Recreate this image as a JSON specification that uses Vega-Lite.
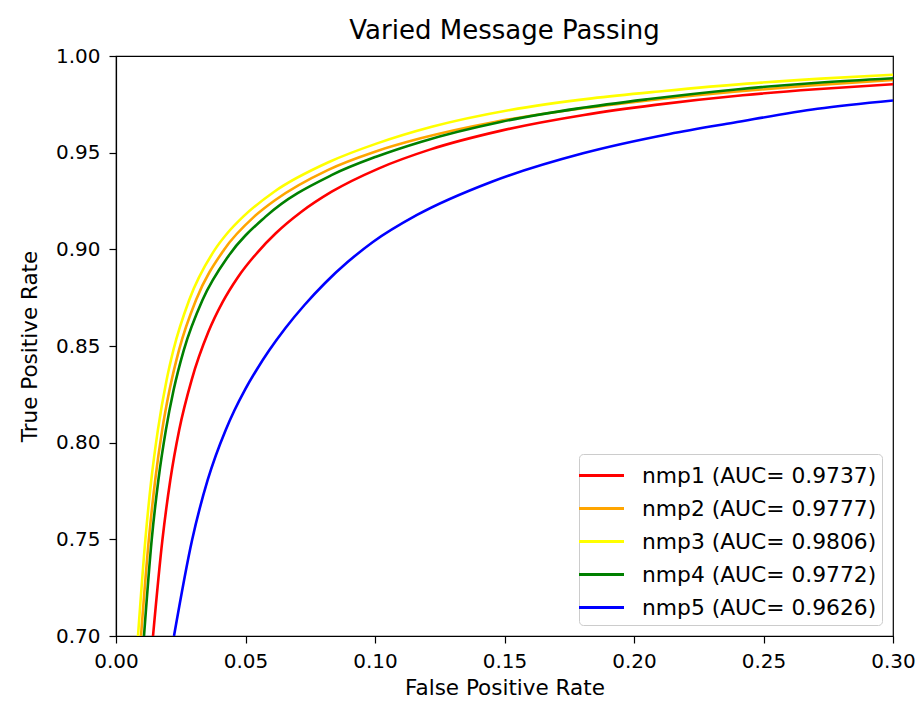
{
  "$schema": "https://vega.github.io/schema/vega-lite/v6.json",
  "width": 777,
  "height": 580,
  "autosize": {"type": "none"},
  "padding": {"left": 116, "top": 56, "right": 25, "bottom": 76},
  "background": "white",
  "title": {"text": "Varied Message Passing", "fontSize": 26, "font": "DejaVu Sans", "fontWeight": "normal", "color": "black", "offset": 2, "anchor": "middle"},
  "data": {"values": [
    {"model": "nmp1 (AUC= 0.9737)", "fpr": 0.01429, "tpr": 0.7},
    {"model": "nmp1 (AUC= 0.9737)", "fpr": 0.01792, "tpr": 0.7497},
    {"model": "nmp1 (AUC= 0.9737)", "fpr": 0.02097, "tpr": 0.7807},
    {"model": "nmp1 (AUC= 0.9737)", "fpr": 0.0244, "tpr": 0.8066},
    {"model": "nmp1 (AUC= 0.9737)", "fpr": 0.02919, "tpr": 0.8324},
    {"model": "nmp1 (AUC= 0.9737)", "fpr": 0.03564, "tpr": 0.8572},
    {"model": "nmp1 (AUC= 0.9737)", "fpr": 0.0412, "tpr": 0.8728},
    {"model": "nmp1 (AUC= 0.9737)", "fpr": 0.04687, "tpr": 0.8852},
    {"model": "nmp1 (AUC= 0.9737)", "fpr": 0.05475, "tpr": 0.8986},
    {"model": "nmp1 (AUC= 0.9737)", "fpr": 0.0617, "tpr": 0.9083},
    {"model": "nmp1 (AUC= 0.9737)", "fpr": 0.07147, "tpr": 0.9193},
    {"model": "nmp1 (AUC= 0.9737)", "fpr": 0.08328, "tpr": 0.9298},
    {"model": "nmp1 (AUC= 0.9737)", "fpr": 0.10154, "tpr": 0.9419},
    {"model": "nmp1 (AUC= 0.9737)", "fpr": 0.12143, "tpr": 0.9517},
    {"model": "nmp1 (AUC= 0.9737)", "fpr": 0.14873, "tpr": 0.9614},
    {"model": "nmp1 (AUC= 0.9737)", "fpr": 0.18069, "tpr": 0.9695},
    {"model": "nmp1 (AUC= 0.9737)", "fpr": 0.20826, "tpr": 0.9747},
    {"model": "nmp1 (AUC= 0.9737)", "fpr": 0.24197, "tpr": 0.9797},
    {"model": "nmp1 (AUC= 0.9737)", "fpr": 0.27019, "tpr": 0.9828},
    {"model": "nmp1 (AUC= 0.9737)", "fpr": 0.3, "tpr": 0.9854},

    {"model": "nmp2 (AUC= 0.9777)", "fpr": 0.00965, "tpr": 0.7},
    {"model": "nmp2 (AUC= 0.9777)", "fpr": 0.01266, "tpr": 0.7497},
    {"model": "nmp2 (AUC= 0.9777)", "fpr": 0.01514, "tpr": 0.7807},
    {"model": "nmp2 (AUC= 0.9777)", "fpr": 0.01784, "tpr": 0.8066},
    {"model": "nmp2 (AUC= 0.9777)", "fpr": 0.02066, "tpr": 0.8272},
    {"model": "nmp2 (AUC= 0.9777)", "fpr": 0.02432, "tpr": 0.8479},
    {"model": "nmp2 (AUC= 0.9777)", "fpr": 0.03089, "tpr": 0.8738},
    {"model": "nmp2 (AUC= 0.9777)", "fpr": 0.04166, "tpr": 0.8997},
    {"model": "nmp2 (AUC= 0.9777)", "fpr": 0.05336, "tpr": 0.9169},
    {"model": "nmp2 (AUC= 0.9777)", "fpr": 0.06151, "tpr": 0.9255},
    {"model": "nmp2 (AUC= 0.9777)", "fpr": 0.08174, "tpr": 0.941},
    {"model": "nmp2 (AUC= 0.9777)", "fpr": 0.1, "tpr": 0.9505},
    {"model": "nmp2 (AUC= 0.9777)", "fpr": 0.11761, "tpr": 0.9574},
    {"model": "nmp2 (AUC= 0.9777)", "fpr": 0.14668, "tpr": 0.966},
    {"model": "nmp2 (AUC= 0.9777)", "fpr": 0.17525, "tpr": 0.9721},
    {"model": "nmp2 (AUC= 0.9777)", "fpr": 0.20124, "tpr": 0.9764},
    {"model": "nmp2 (AUC= 0.9777)", "fpr": 0.23768, "tpr": 0.9814},
    {"model": "nmp2 (AUC= 0.9777)", "fpr": 0.2683, "tpr": 0.9848},
    {"model": "nmp2 (AUC= 0.9777)", "fpr": 0.3, "tpr": 0.9876},

    {"model": "nmp3 (AUC= 0.9806)", "fpr": 0.00849, "tpr": 0.7},
    {"model": "nmp3 (AUC= 0.9806)", "fpr": 0.01135, "tpr": 0.75},
    {"model": "nmp3 (AUC= 0.9806)", "fpr": 0.01363, "tpr": 0.7807},
    {"model": "nmp3 (AUC= 0.9806)", "fpr": 0.01618, "tpr": 0.8066},
    {"model": "nmp3 (AUC= 0.9806)", "fpr": 0.01954, "tpr": 0.8324},
    {"model": "nmp3 (AUC= 0.9806)", "fpr": 0.02216, "tpr": 0.8479},
    {"model": "nmp3 (AUC= 0.9806)", "fpr": 0.02826, "tpr": 0.8738},
    {"model": "nmp3 (AUC= 0.9806)", "fpr": 0.03811, "tpr": 0.8997},
    {"model": "nmp3 (AUC= 0.9806)", "fpr": 0.04297, "tpr": 0.9083},
    {"model": "nmp3 (AUC= 0.9806)", "fpr": 0.04911, "tpr": 0.9169},
    {"model": "nmp3 (AUC= 0.9806)", "fpr": 0.06108, "tpr": 0.9298},
    {"model": "nmp3 (AUC= 0.9806)", "fpr": 0.08247, "tpr": 0.9453},
    {"model": "nmp3 (AUC= 0.9806)", "fpr": 0.10081, "tpr": 0.9548},
    {"model": "nmp3 (AUC= 0.9806)", "fpr": 0.12193, "tpr": 0.9634},
    {"model": "nmp3 (AUC= 0.9806)", "fpr": 0.15216, "tpr": 0.9721},
    {"model": "nmp3 (AUC= 0.9806)", "fpr": 0.18378, "tpr": 0.9781},
    {"model": "nmp3 (AUC= 0.9806)", "fpr": 0.21166, "tpr": 0.9819},
    {"model": "nmp3 (AUC= 0.9806)", "fpr": 0.24371, "tpr": 0.9857},
    {"model": "nmp3 (AUC= 0.9806)", "fpr": 0.27224, "tpr": 0.9883},
    {"model": "nmp3 (AUC= 0.9806)", "fpr": 0.3, "tpr": 0.9903},

    {"model": "nmp4 (AUC= 0.9772)", "fpr": 0.01081, "tpr": 0.7},
    {"model": "nmp4 (AUC= 0.9772)", "fpr": 0.01378, "tpr": 0.7497},
    {"model": "nmp4 (AUC= 0.9772)", "fpr": 0.01637, "tpr": 0.7807},
    {"model": "nmp4 (AUC= 0.9772)", "fpr": 0.01927, "tpr": 0.8066},
    {"model": "nmp4 (AUC= 0.9772)", "fpr": 0.02224, "tpr": 0.8272},
    {"model": "nmp4 (AUC= 0.9772)", "fpr": 0.02618, "tpr": 0.8479},
    {"model": "nmp4 (AUC= 0.9772)", "fpr": 0.0334, "tpr": 0.8738},
    {"model": "nmp4 (AUC= 0.9772)", "fpr": 0.04344, "tpr": 0.8966},
    {"model": "nmp4 (AUC= 0.9772)", "fpr": 0.05776, "tpr": 0.9169},
    {"model": "nmp4 (AUC= 0.9772)", "fpr": 0.0834, "tpr": 0.9385},
    {"model": "nmp4 (AUC= 0.9772)", "fpr": 0.10042, "tpr": 0.9479},
    {"model": "nmp4 (AUC= 0.9772)", "fpr": 0.11795, "tpr": 0.9557},
    {"model": "nmp4 (AUC= 0.9772)", "fpr": 0.14888, "tpr": 0.966},
    {"model": "nmp4 (AUC= 0.9772)", "fpr": 0.17861, "tpr": 0.9729},
    {"model": "nmp4 (AUC= 0.9772)", "fpr": 0.20506, "tpr": 0.9776},
    {"model": "nmp4 (AUC= 0.9772)", "fpr": 0.23938, "tpr": 0.9827},
    {"model": "nmp4 (AUC= 0.9772)", "fpr": 0.271, "tpr": 0.9862},
    {"model": "nmp4 (AUC= 0.9772)", "fpr": 0.3, "tpr": 0.9885},

    {"model": "nmp5 (AUC= 0.9626)", "fpr": 0.02239, "tpr": 0.7},
    {"model": "nmp5 (AUC= 0.9626)", "fpr": 0.02938, "tpr": 0.7497},
    {"model": "nmp5 (AUC= 0.9626)", "fpr": 0.0354, "tpr": 0.7807},
    {"model": "nmp5 (AUC= 0.9626)", "fpr": 0.04236, "tpr": 0.8066},
    {"model": "nmp5 (AUC= 0.9626)", "fpr": 0.04579, "tpr": 0.8169},
    {"model": "nmp5 (AUC= 0.9626)", "fpr": 0.04973, "tpr": 0.8272},
    {"model": "nmp5 (AUC= 0.9626)", "fpr": 0.05425, "tpr": 0.8376},
    {"model": "nmp5 (AUC= 0.9626)", "fpr": 0.05923, "tpr": 0.8479},
    {"model": "nmp5 (AUC= 0.9626)", "fpr": 0.06544, "tpr": 0.8593},
    {"model": "nmp5 (AUC= 0.9626)", "fpr": 0.07278, "tpr": 0.8712},
    {"model": "nmp5 (AUC= 0.9626)", "fpr": 0.08073, "tpr": 0.8826},
    {"model": "nmp5 (AUC= 0.9626)", "fpr": 0.08942, "tpr": 0.8934},
    {"model": "nmp5 (AUC= 0.9626)", "fpr": 0.09919, "tpr": 0.9038},
    {"model": "nmp5 (AUC= 0.9626)", "fpr": 0.11622, "tpr": 0.9178},
    {"model": "nmp5 (AUC= 0.9626)", "fpr": 0.1451, "tpr": 0.935},
    {"model": "nmp5 (AUC= 0.9626)", "fpr": 0.18031, "tpr": 0.9497},
    {"model": "nmp5 (AUC= 0.9626)", "fpr": 0.21371, "tpr": 0.9597},
    {"model": "nmp5 (AUC= 0.9626)", "fpr": 0.23834, "tpr": 0.9655},
    {"model": "nmp5 (AUC= 0.9626)", "fpr": 0.27085, "tpr": 0.9727},
    {"model": "nmp5 (AUC= 0.9626)", "fpr": 0.3, "tpr": 0.977}
  ]},
  "mark": {"type": "line", "strokeWidth": 2.6, "clip": true, "interpolate": "monotone"},
  "encoding": {
    "x": {
      "field": "fpr", "type": "quantitative",
      "scale": {"domain": [0, 0.3], "nice": false, "zero": false},
      "axis": {"title": "False Positive Rate", "values": [0, 0.05, 0.1, 0.15, 0.2, 0.25, 0.3], "format": ".2f", "labelFlush": false, "labelPadding": 8, "titlePadding": 6}
    },
    "y": {
      "field": "tpr", "type": "quantitative",
      "scale": {"domain": [0.7, 1.0], "nice": false, "zero": false},
      "axis": {"title": "True Positive Rate", "values": [0.7, 0.75, 0.8, 0.85, 0.9, 0.95, 1.0], "format": ".2f", "labelFlush": false, "labelPadding": 9, "titlePadding": 14}
    },
    "color": {
      "field": "model", "type": "nominal",
      "scale": {
        "domain": ["nmp1 (AUC= 0.9737)", "nmp2 (AUC= 0.9777)", "nmp3 (AUC= 0.9806)", "nmp4 (AUC= 0.9772)", "nmp5 (AUC= 0.9626)"],
        "range": ["#ff0000", "#ffa500", "#ffff00", "#008000", "#0000ff"]
      },
      "legend": {
        "title": null,
        "orient": "bottom-right",
        "offset": 11,
        "symbolType": "M-1.5,0H1.5",
        "symbolSize": 900,
        "symbolStrokeWidth": 3,
        "symbolOffset": 1,
        "labelFontSize": 21.8,
        "labelFont": "DejaVu Sans",
        "labelColor": "black",
        "labelOffset": 24,
        "labelLimit": 500,
        "rowPadding": 4,
        "padding": 5,
        "strokeColor": "#cccccc",
        "fillColor": "white",
        "cornerRadius": 4
      }
    },
    "order": {"field": "fpr", "type": "quantitative"}
  },
  "config": {
    "view": {"stroke": "black", "strokeWidth": 1.2},
    "axis": {
      "grid": false,
      "domainColor": "black",
      "domainWidth": 1.2,
      "tickColor": "black",
      "tickWidth": 1.2,
      "tickSize": 7,
      "labelFont": "DejaVu Sans",
      "labelFontSize": 20,
      "labelColor": "black",
      "titleFont": "DejaVu Sans",
      "titleFontSize": 21.5,
      "titleFontWeight": "normal",
      "titleColor": "black"
    }
  }
}
